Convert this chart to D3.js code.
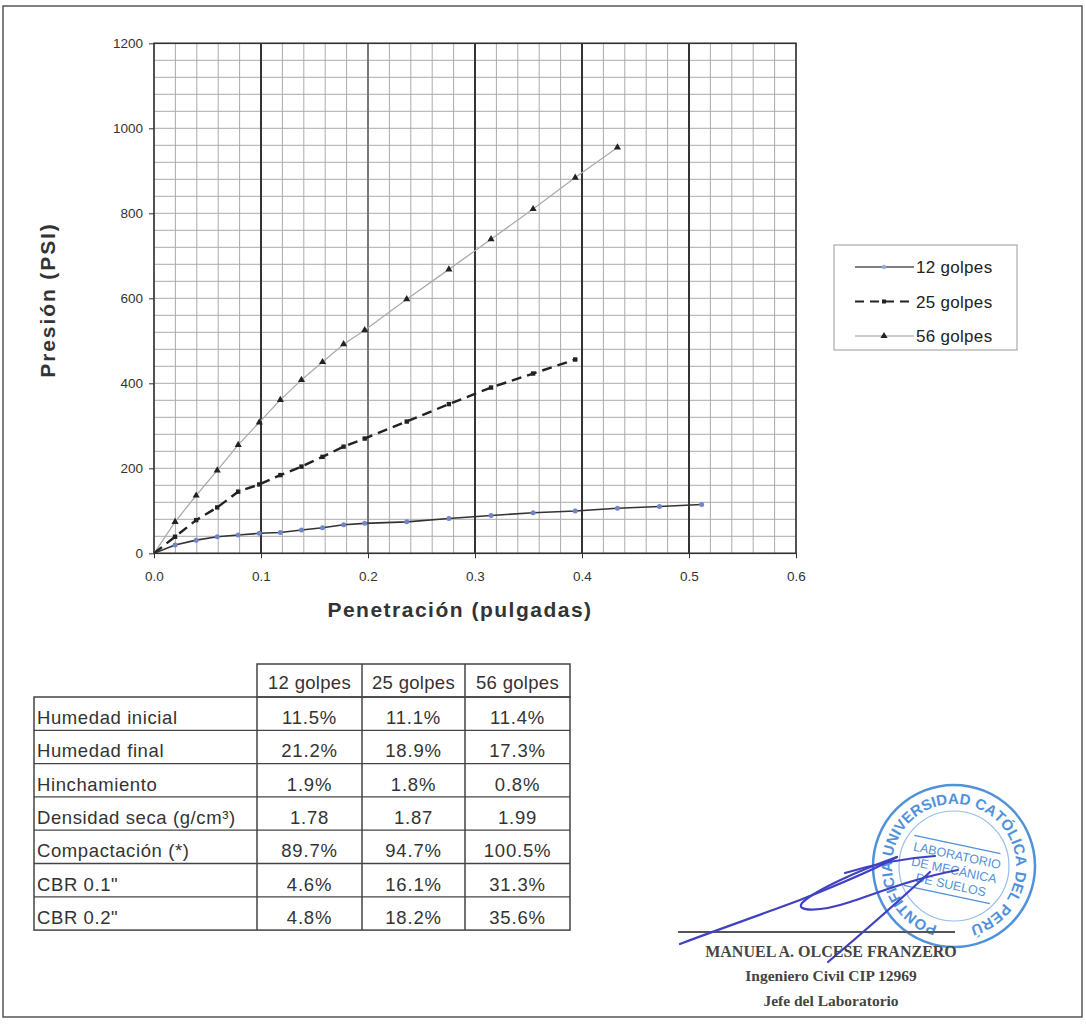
<!DOCTYPE html>
<html>
<head>
<meta charset="utf-8">
<script src="https://cdn.jsdelivr.net/npm/d3@7"></script>
<style>
  html, body { margin: 0; padding: 0; background: #fff; }
  svg { display: block; font-family: "Liberation Sans", Arial, sans-serif; }
</style>
</head>
<body>
<svg id="chart" width="1086" height="1028"></svg>
<script>
// ---------- DATA ----------
const penetracion = [0, 0.0197, 0.0394, 0.0591, 0.0787, 0.0984, 0.1181, 0.1378, 0.1575, 0.1772, 0.1969, 0.2362, 0.2756, 0.3150, 0.3543, 0.3937, 0.4331, 0.4724, 0.5118];
const golpes12 = [0, 19.5, 31, 39, 43, 47, 49, 55, 60, 67, 70.5, 74, 82, 89, 95.5, 99.5, 106, 110, 115];
const golpes25 = [0, 39, 78, 108, 145, 162, 184, 204, 227, 251, 270, 310, 351, 390, 423, 456];
const golpes56 = [0, 74, 136, 195, 255, 308, 361, 408, 450, 492, 525, 598, 668, 739, 810, 884, 955];
const seriesNames = ["12 golpes", "25 golpes", "56 golpes"];
const xTicks = [0, 0.1, 0.2, 0.3, 0.4, 0.5, 0.6];
const yTicks = [0, 200, 400, 600, 800, 1000, 1200];

const tableRows = ["Humedad inicial", "Humedad final", "Hinchamiento", "Densidad seca (g/cm\u00b3)", "Compactaci\u00f3n (*)", "CBR 0.1\"", "CBR 0.2\""];
const col12 = ["11.5%", "21.2%", "1.9%", "1.78", "89.7%", "4.6%", "4.8%"];
const col25 = ["11.1%", "18.9%", "1.8%", "1.87", "94.7%", "16.1%", "18.2%"];
const col56 = ["11.4%", "17.3%", "0.8%", "1.99", "100.5%", "31.3%", "35.6%"];

// ---------- SETUP ----------
const svg = d3.select("#chart");
const x = d3.scaleLinear().domain([0, 0.6]).range([154, 796]);
const y = d3.scaleLinear().domain([0, 1200]).range([553.3, 43.3]);

// page frame
svg.append("rect").attr("x", 3).attr("y", 6).attr("width", 1079).attr("height", 1011)
  .attr("fill", "none").attr("stroke", "#555").attr("stroke-width", 1.5);

const g = svg.append("g");

// minor grid
const minorX = d3.range(0, 0.6001, 0.02);
const minorY = d3.range(0, 1200.01, 40);
g.selectAll(".vminor").data(minorX).join("line")
  .attr("x1", d => x(d)).attr("x2", d => x(d))
  .attr("y1", y(0)).attr("y2", y(1200))
  .attr("stroke", "#ababab").attr("stroke-width", 1);
g.selectAll(".hminor").data(minorY).join("line")
  .attr("x1", x(0)).attr("x2", x(0.6))
  .attr("y1", d => y(d)).attr("y2", d => y(d))
  .attr("stroke", "#ababab").attr("stroke-width", 1);
// major vertical
g.selectAll(".vmajor").data(xTicks.slice(1, -1)).join("line")
  .attr("x1", d => x(d)).attr("x2", d => x(d))
  .attr("y1", y(0)).attr("y2", y(1200))
  .attr("stroke", d => (Math.abs(d - 0.2) < 1e-6 ? "#777" : "#333")).attr("stroke-width", 2);
// plot border
g.append("rect").attr("x", x(0)).attr("y", y(1200))
  .attr("width", x(0.6) - x(0)).attr("height", y(0) - y(1200))
  .attr("fill", "none").attr("stroke", "#333").attr("stroke-width", 1.6);

// axes
const yAxis = d3.axisLeft(y).tickValues(yTicks).tickSize(5).tickPadding(6).tickFormat(d3.format("d"));
const xAxis = d3.axisBottom(x).tickValues(xTicks).tickSize(5).tickPadding(13).tickFormat(d3.format(".1f"));
const ya = g.append("g").attr("transform", `translate(${x(0)},0)`).call(yAxis);
const xa = g.append("g").attr("transform", `translate(0,${y(0)})`).call(xAxis);
[ya, xa].forEach(a => {
  a.select(".domain").remove();
  a.selectAll("line").attr("stroke", "#333");
  a.selectAll("text").attr("font-size", 13.5).attr("fill", "#333")
    .attr("font-family", "'Liberation Sans', Arial, sans-serif");
});

// axis titles
svg.append("text").attr("transform", "translate(55,300) rotate(-90)")
  .attr("text-anchor", "middle").attr("font-size", 21).attr("font-weight", "bold").attr("fill", "#333")
  .attr("letter-spacing", 1.9)
  .text("Presi\u00f3n (PSI)");
svg.append("text").attr("x", 460).attr("y", 617)
  .attr("text-anchor", "middle").attr("font-size", 21).attr("font-weight", "bold").attr("fill", "#333")
  .attr("letter-spacing", 1.5)
  .text("Penetraci\u00f3n (pulgadas)");

// ---------- SERIES ----------
const line = d3.line().x(d => x(d[0])).y(d => y(d[1]));
const pts12 = golpes12.map((v, i) => [penetracion[i], v]);
const pts25 = golpes25.map((v, i) => [penetracion[i], v]);
const pts56 = golpes56.map((v, i) => [penetracion[i], v]);

g.append("path").datum(pts56).attr("d", line).attr("fill", "none")
  .attr("stroke", "#ababab").attr("stroke-width", 1.3);
g.append("path").datum(pts25).attr("d", line).attr("fill", "none")
  .attr("stroke", "#222").attr("stroke-width", 2.4).attr("stroke-dasharray", "10,6");
g.append("path").datum(pts12).attr("d", line).attr("fill", "none")
  .attr("stroke", "#333").attr("stroke-width", 1.6);

const tri = d3.symbol().type(d3.symbolTriangle).size(22);
g.selectAll(".m56").data(pts56.slice(1)).join("path")
  .attr("d", tri).attr("transform", d => `translate(${x(d[0])},${y(d[1])})`).attr("fill", "#222");
g.selectAll(".m25").data(pts25.slice(1)).join("rect")
  .attr("x", d => x(d[0]) - 2.2).attr("y", d => y(d[1]) - 2.2).attr("width", 4.4).attr("height", 4.4)
  .attr("fill", "#222");
g.selectAll(".m12").data(pts12.slice(1)).join("circle")
  .attr("cx", d => x(d[0])).attr("cy", d => y(d[1])).attr("r", 2.5).attr("fill", "#6f86c8");

// ---------- LEGEND ----------
const lg = svg.append("g");
lg.append("rect").attr("x", 834).attr("y", 245).attr("width", 183).attr("height", 105)
  .attr("fill", "#fff").attr("stroke", "#aaa").attr("stroke-width", 1.2);
const legY = [267, 301.5, 336];
seriesNames.forEach((name, i) => {
  const yy = legY[i];
  if (i === 0) {
    lg.append("line").attr("x1", 855).attr("x2", 914).attr("y1", yy).attr("y2", yy).attr("stroke", "#555").attr("stroke-width", 1.4);
    lg.append("circle").attr("cx", 884).attr("cy", yy).attr("r", 2.2).attr("fill", "#8fb0e0");
  } else if (i === 1) {
    lg.append("line").attr("x1", 855).attr("x2", 914).attr("y1", yy).attr("y2", yy).attr("stroke", "#222").attr("stroke-width", 2.2).attr("stroke-dasharray", "9,6");
    lg.append("rect").attr("x", 882).attr("y", yy - 2).attr("width", 4).attr("height", 4).attr("fill", "#222");
  } else {
    lg.append("line").attr("x1", 855).attr("x2", 914).attr("y1", yy).attr("y2", yy).attr("stroke", "#999").attr("stroke-width", 1.2);
    lg.append("path").attr("d", tri).attr("transform", `translate(884,${yy})`).attr("fill", "#222");
  }
  lg.append("text").attr("x", 916).attr("y", yy + 6).attr("font-size", 17).attr("letter-spacing", 0.3)
    .attr("fill", "#222").text(name);
});

// ---------- TABLE ----------
const tg = svg.append("g").attr("font-size", 18.5).attr("letter-spacing", 0.8).attr("fill", "#333");
const colX = [34, 257, 362, 465, 570];
const headerTop = 664, rowH = 33.3, bodyTop = 697;
const tStroke = "#444";
tg.append("rect").attr("x", colX[1]).attr("y", headerTop).attr("width", colX[4] - colX[1]).attr("height", bodyTop - headerTop)
  .attr("fill", "none").attr("stroke", tStroke).attr("stroke-width", 1.5);
[colX[2], colX[3]].forEach(cx => tg.append("line").attr("x1", cx).attr("x2", cx).attr("y1", headerTop).attr("y2", bodyTop).attr("stroke", tStroke).attr("stroke-width", 1.5));
seriesNames.forEach((n, i) => {
  tg.append("text").attr("x", (colX[i + 1] + colX[i + 2]) / 2).attr("y", headerTop + 25)
    .attr("text-anchor", "middle").attr("letter-spacing", 0.3).text(n);
});
const bodyBottom = bodyTop + rowH * tableRows.length;
tg.append("rect").attr("x", colX[0]).attr("y", bodyTop).attr("width", colX[4] - colX[0]).attr("height", bodyBottom - bodyTop)
  .attr("fill", "none").attr("stroke", tStroke).attr("stroke-width", 1.5);
tableRows.forEach((r, i) => {
  const top = bodyTop + i * rowH;
  if (i > 0) tg.append("line").attr("x1", colX[0]).attr("x2", colX[4]).attr("y1", top).attr("y2", top).attr("stroke", tStroke).attr("stroke-width", 1.3);
  tg.append("text").attr("x", colX[0] + 3).attr("y", top + 27).attr("letter-spacing", 0.6).text(r);
  [col12, col25, col56].forEach((col, j) => {
    tg.append("text").attr("x", (colX[j + 1] + colX[j + 2]) / 2).attr("y", top + 27)
      .attr("text-anchor", "middle").text(col[i]);
  });
});
[colX[1], colX[2], colX[3]].forEach(cx => tg.append("line").attr("x1", cx).attr("x2", cx).attr("y1", bodyTop).attr("y2", bodyBottom).attr("stroke", tStroke).attr("stroke-width", 1.5));

// ---------- STAMP & SIGNATURE ----------
const blue = "#3d86d8";
const st = svg.append("g").attr("opacity", 0.9);
const scx = 954, scy = 866;
st.append("circle").attr("cx", scx).attr("cy", scy).attr("r", 81).attr("fill", "none").attr("stroke", blue).attr("stroke-width", 2.5);
st.append("circle").attr("cx", scx).attr("cy", scy).attr("r", 55).attr("fill", "none").attr("stroke", blue).attr("stroke-width", 1.2).attr("opacity", 0.6);
const ringText = "PONTIFICIA UNIVERSIDAD CAT\u00d3LICA DEL PER\u00da";
const chars = ringText.split("");
const startDeg = 200, endDeg = 520, rr = 67.5;
// measure glyph widths for proportional spacing
const ringNodes = chars.map(c => st.append("text").attr("text-anchor", "middle").attr("dy", "0.36em")
  .attr("font-size", 15).attr("font-weight", "bold").attr("fill", blue).text(c === " " ? "\u00a0" : c));
const widths = ringNodes.map(n => n.node().getComputedTextLength() || 8);
const totalW = d3.sum(widths) - (widths[0] + widths[widths.length - 1]) / 2;
let acc = 0;
ringNodes.forEach((n, i) => {
  if (i > 0) acc += (widths[i - 1] + widths[i]) / 2;
  const th = startDeg + (endDeg - startDeg) * acc / totalW;
  const rad = th * Math.PI / 180;
  const px = scx + rr * Math.sin(rad), py = scy - rr * Math.cos(rad);
  if (chars[i] === " ") { n.remove(); return; }
  n.attr("transform", `translate(${px.toFixed(2)},${py.toFixed(2)}) rotate(${th.toFixed(2)})`);
});
const inner = st.append("g").attr("transform", `translate(${scx - 2},${scy + 4}) rotate(12)`);
inner.append("line").attr("x1", -44).attr("x2", 44).attr("y1", -26).attr("y2", -26).attr("stroke", blue).attr("stroke-width", 1.3);
inner.append("line").attr("x1", -44).attr("x2", 44).attr("y1", 25).attr("y2", 25).attr("stroke", blue).attr("stroke-width", 1.3);
["LABORATORIO", "DE MEC\u00c1NICA", "DE SUELOS"].forEach((t, i) => {
  inner.append("text").attr("x", 2).attr("y", -11 + i * 15).attr("text-anchor", "middle")
    .attr("font-size", 12.5).attr("fill", blue).text(t);
});

// signature line + scribble
svg.append("line").attr("x1", 678).attr("x2", 955).attr("y1", 932).attr("y2", 932).attr("stroke", "#555").attr("stroke-width", 1.8);
const sig = svg.append("g").attr("fill", "none").attr("stroke", "#4040c4").attr("stroke-width", 2.2).attr("stroke-linecap", "round");
sig.append("path").attr("d", "M680,944 C700,936 760,915 800,900 C830,888 870,872 897,857");
sig.append("path").attr("d", "M897,857 C860,870 815,890 802,903 C795,912 820,912 850,902 C880,892 915,878 958,870");
sig.append("path").attr("d", "M845,873 C875,864 905,858 935,856");
sig.append("path").attr("d", "M828,962 C860,935 900,900 930,872");

const sigTxt = svg.append("g").attr("font-family", "'Liberation Serif', 'Times New Roman', serif").attr("font-weight", "bold").attr("fill", "#444").attr("text-anchor", "middle");
sigTxt.append("text").attr("x", 831).attr("y", 957).attr("font-size", 16).text("MANUEL A. OLCESE FRANZERO");
sigTxt.append("text").attr("x", 831).attr("y", 981).attr("font-size", 15.5).text("Ingeniero Civil CIP 12969");
sigTxt.append("text").attr("x", 831).attr("y", 1006).attr("font-size", 15.5).text("Jefe del Laboratorio");
</script>
</body>
</html>
